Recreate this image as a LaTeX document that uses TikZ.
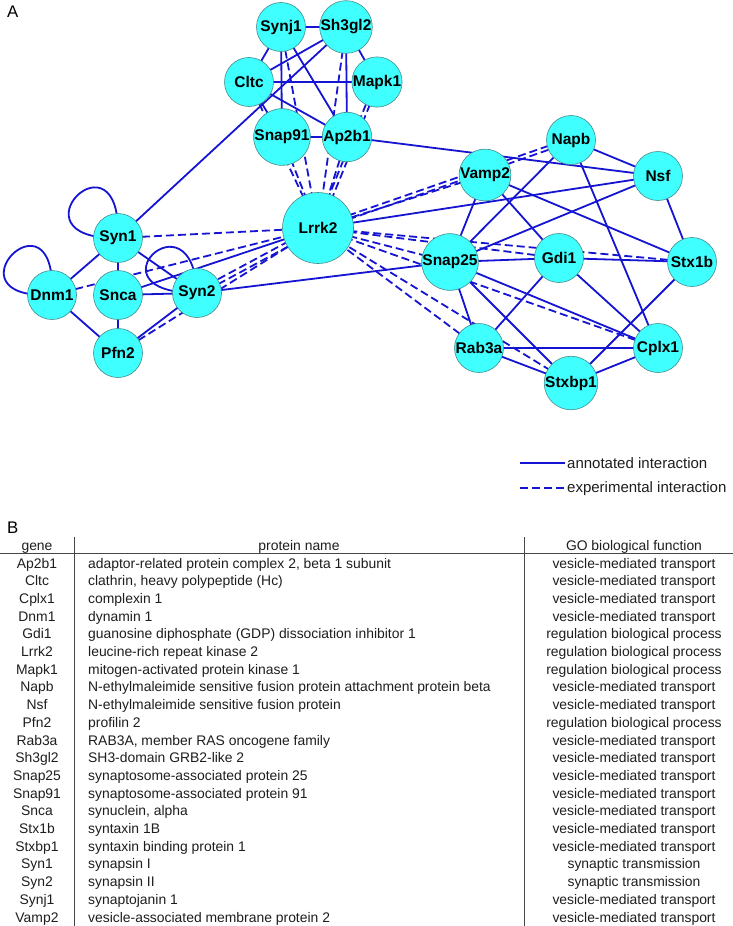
\documentclass[tikz,border=0pt]{standalone}
\usepackage{fontspec}
\setmainfont{Liberation Sans}
\pgfdeclarelayer{bgl}
\pgfdeclarelayer{edges}
\pgfsetlayers{bgl,edges,main}
\definecolor{nodefill}{RGB}{64,255,255}
\definecolor{nodeline}{RGB}{70,140,140}
\definecolor{edgeblue}{RGB}{20,20,210}
\definecolor{tabtext}{RGB}{30,30,30}
\definecolor{tabline}{RGB}{70,70,70}
\tikzset{
  prot/.style={circle, fill=nodefill, draw=nodeline, line width=0.6pt, minimum size=49pt, inner sep=0pt,
    font=\fontsize{15.5}{16}\selectfont\bfseries, text=black},
  bigprot/.style={prot, minimum size=71pt},
  ann/.style={draw=edgeblue, line width=1.8pt},
  expt/.style={draw=edgeblue, line width=1.8pt, dash pattern=on 8pt off 4pt},
  genecol/.style={anchor=base, inner sep=0pt, text=tabtext, font=\fontsize{13.9}{16}\selectfont},
  protcol/.style={anchor=base west, inner sep=0pt, text=tabtext, font=\fontsize{13.9}{16}\selectfont},
  gocol/.style={anchor=base, inner sep=0pt, text=tabtext, font=\fontsize{13.9}{16}\selectfont},
  legtext/.style={anchor=base west, inner sep=0pt, text=tabtext, font=\fontsize{15}{17}\selectfont},
  panel/.style={anchor=base west, inner sep=0pt, text=black, font=\fontsize{16.8}{18}\selectfont},
  tabrule/.style={draw=tabline, line width=0.9pt}
}
\newcommand\myrow[4]{%
  \node[genecol] (g#1) at (37, {568+(#1-1)*17.7}) {#2};
  \node[protcol] (p#1) at (88, {568+(#1-1)*17.7}) {#3};
  \node[gocol] (f#1) at (634, {568+(#1-1)*17.7}) {#4};
}
\begin{document}
\begin{tikzpicture}[x=1pt,y=-1pt]
\useasboundingbox (0,0) rectangle (733,926);
\begin{pgfonlayer}{bgl}
  \fill[white] (0,0) rectangle (733,926);
\end{pgfonlayer}

% panel labels
\node[panel] (labA) at (7,17) {A};
\node[panel] (labB) at (7,533) {B};

% nodes
\node[prot] (synj1) at (281,27) {Synj1};
\node[prot] (sh3gl2) at (346,27) {Sh3gl2};
\node[prot] (cltc) at (249,82) {Cltc};
\node[prot] (mapk1) at (377,82) {Mapk1};
\node[prot] (snap91) at (282,137) {Snap91};
\node[prot] (ap2b1) at (347,137) {Ap2b1};
\node[bigprot] (lrrk2) at (318,228) {Lrrk2};
\node[prot] (syn1) at (118,238) {Syn1};
\node[prot] (dnm1) at (52,295) {Dnm1};
\node[prot] (snca) at (118,295) {Snca};
\node[prot] (syn2) at (197,293) {Syn2};
\node[prot] (pfn2) at (118,353) {Pfn2};
\node[prot] (napb) at (571,140) {Napb};
\node[prot] (vamp2) at (485,175) {Vamp2};
\node[prot] (nsf) at (658,176) {Nsf};
\node[prot] (snap25) at (450,262) {Snap25};
\node[prot] (gdi1) at (559,258) {Gdi1};
\node[prot] (stx1b) at (692,262) {Stx1b};
\node[prot] (rab3a) at (479,348) {Rab3a};
\node[prot] (cplx1) at (658,348) {Cplx1};
\node[prot] (stxbp1) at (571,383) {Stxbp1};

\begin{pgfonlayer}{edges}
  % annotated interactions
  \foreach \a/\b in {synj1/sh3gl2, synj1/cltc, synj1/snap91, synj1/ap2b1,
      sh3gl2/cltc, sh3gl2/mapk1, sh3gl2/ap2b1, sh3gl2/syn1,
      cltc/mapk1, cltc/ap2b1, cltc/snap91, snap91/ap2b1, ap2b1/nsf,
      syn1/dnm1, syn1/snca, syn1/syn2, snca/syn2, snca/lrrk2,
      dnm1/pfn2, snca/pfn2, pfn2/syn2, syn2/snap25, lrrk2/nsf,
      napb/nsf, napb/snap25, napb/cplx1, vamp2/snap25, vamp2/gdi1, vamp2/stx1b,
      nsf/snap25, nsf/stx1b, snap25/gdi1, gdi1/stx1b, snap25/rab3a, snap25/stxbp1,
      snap25/cplx1, gdi1/rab3a, gdi1/cplx1, rab3a/cplx1, rab3a/stxbp1,
      stxbp1/cplx1, stxbp1/stx1b}
    \draw[ann] (\a.center) -- (\b.center);
  % self loops
  \draw[ann] (syn1.center) .. controls +(-113,2) and +(4,-115) .. (syn1.center);
  \draw[ann] (dnm1.center) .. controls +(-111,5) and +(5,-113) .. (dnm1.center);
  \draw[ann] (syn2.center) .. controls +(-113,0) and +(-4,-104) .. (syn2.center);
  % experimental interactions
  \foreach \a in {synj1, sh3gl2, cltc, snap91, ap2b1, syn1, dnm1, pfn2,
      vamp2, snap25, gdi1, stx1b, cplx1, stxbp1, rab3a}
    \draw[expt] (\a.center) -- (lrrk2.center);
  \draw[expt] ([xshift=-2pt]mapk1.center) -- ([xshift=-2pt]lrrk2.center);
  \draw[expt] ([xshift=2pt]mapk1.center) -- ([xshift=2pt]lrrk2.center);
  \draw[expt] ([yshift=-2.5pt]syn2.center) -- ([yshift=-2.5pt]lrrk2.center);
  \draw[expt] ([yshift=2.5pt]syn2.center) -- ([yshift=2.5pt]lrrk2.center);
  \draw[expt] ([yshift=-2pt]napb.center) -- ([yshift=-2pt]lrrk2.center);
  \draw[expt] ([yshift=2pt]napb.center) -- ([yshift=2pt]lrrk2.center);
\end{pgfonlayer}

% legend
\coordinate (l1a) at (520,463);
\coordinate (l1b) at (565,463);
\coordinate (l2a) at (520,488);
\coordinate (l2b) at (565,488);
\draw[ann, line width=1.4pt] (l1a) -- (l1b);
\draw[expt, line width=1.4pt] (l2a) -- (l2b);
\node[legtext] (leg1) at (567,468) {annotated interaction};
\node[legtext] (leg2) at (567,492) {experimental interaction};

% table
\coordinate (hl1) at (0,553);
\coordinate (hl2) at (733,553);
\coordinate (v1a) at (74,537);
\coordinate (v1b) at (74,926);
\coordinate (v2a) at (524,537);
\coordinate (v2b) at (524,926);
\draw[tabrule] (hl1) -- (hl2);
\draw[tabrule] (v1a) -- (v1b);
\draw[tabrule] (v2a) -- (v2b);
\node[genecol] (hg) at (37,550) {gene};
\node[gocol] (hp) at (299,550) {protein name};
\node[gocol] (hf) at (634,550) {GO biological function};

\myrow{1}{Ap2b1}{adaptor-related protein complex 2, beta 1 subunit}{vesicle-mediated transport}
\myrow{2}{Cltc}{clathrin, heavy polypeptide (Hc)}{vesicle-mediated transport}
\myrow{3}{Cplx1}{complexin 1}{vesicle-mediated transport}
\myrow{4}{Dnm1}{dynamin 1}{vesicle-mediated transport}
\myrow{5}{Gdi1}{guanosine diphosphate (GDP) dissociation inhibitor 1}{regulation biological process}
\myrow{6}{Lrrk2}{leucine-rich repeat kinase 2}{regulation biological process}
\myrow{7}{Mapk1}{mitogen-activated protein kinase 1}{regulation biological process}
\myrow{8}{Napb}{N-ethylmaleimide sensitive fusion protein attachment protein beta}{vesicle-mediated transport}
\myrow{9}{Nsf}{N-ethylmaleimide sensitive fusion protein}{vesicle-mediated transport}
\myrow{10}{Pfn2}{profilin 2}{regulation biological process}
\myrow{11}{Rab3a}{RAB3A, member RAS oncogene family}{vesicle-mediated transport}
\myrow{12}{Sh3gl2}{SH3-domain GRB2-like 2}{vesicle-mediated transport}
\myrow{13}{Snap25}{synaptosome-associated protein 25}{vesicle-mediated transport}
\myrow{14}{Snap91}{synaptosome-associated protein 91}{vesicle-mediated transport}
\myrow{15}{Snca}{synuclein, alpha}{vesicle-mediated transport}
\myrow{16}{Stx1b}{syntaxin 1B}{vesicle-mediated transport}
\myrow{17}{Stxbp1}{syntaxin binding protein 1}{vesicle-mediated transport}
\myrow{18}{Syn1}{synapsin I}{synaptic transmission}
\myrow{19}{Syn2}{synapsin II}{synaptic transmission}
\myrow{20}{Synj1}{synaptojanin 1}{vesicle-mediated transport}
\myrow{21}{Vamp2}{vesicle-associated membrane protein 2}{vesicle-mediated transport}
\end{tikzpicture}
\end{document}
